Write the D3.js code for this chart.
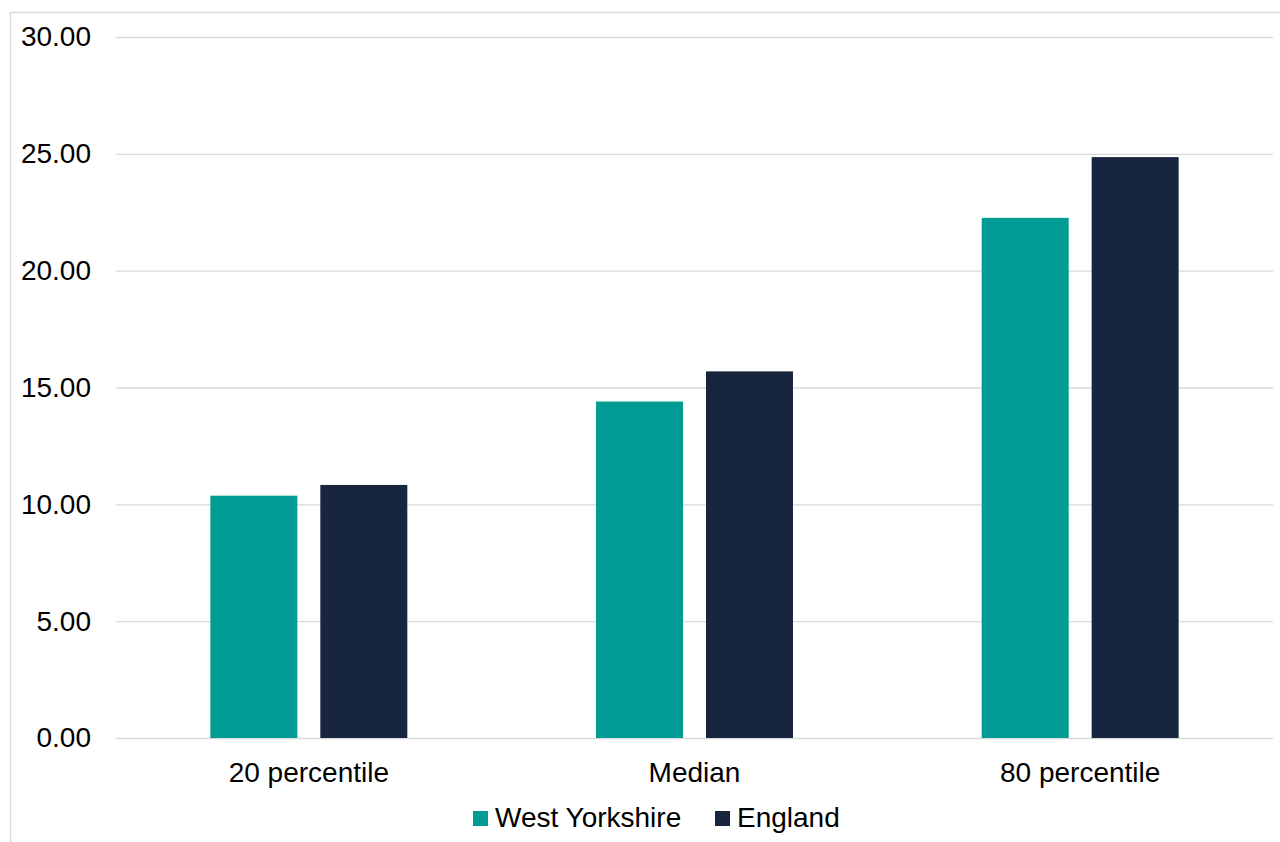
<!DOCTYPE html>
<html>
<head>
<meta charset="utf-8">
<script src="https://cdn.jsdelivr.net/npm/d3@7"></script>
<style>
html,body{margin:0;padding:0;background:#fff;}
svg{display:block;}
text{font-family:"Liberation Sans",Arial,sans-serif;fill:#000;}
</style>
</head>
<body>
<svg id="chart" width="1280" height="842"></svg>
<script>
const categories = ["20 percentile", "Median", "80 percentile"];
const seriesNames = ["West Yorkshire", "England"];
const westYorkshire = [10.37, 14.40, 22.26];
const england = [10.83, 15.69, 24.86];
const yTicks = [0, 5, 10, 15, 20, 25, 30];
const colors = ["#009b93", "#18253e"];

const svg = d3.select("#chart");
const W = 1280, H = 842;
const plot = {left: 116, right: 1273, top: 37, bottom: 738};
const FS = "28px";

// outer frame
svg.append("rect").attr("x", 10.5).attr("y", 12.5).attr("width", W).attr("height", H)
  .attr("fill", "none").attr("stroke", "#d9d9d9").attr("stroke-width", 1.5);

const y = d3.scaleLinear().domain([0, 30]).range([plot.bottom, plot.top]);
const x0 = d3.scaleBand().domain(categories).range([plot.left, plot.right]).padding(0);
const x1 = d3.scaleBand().domain(seriesNames).range([0, x0.bandwidth()])
  .paddingInner(0.209).paddingOuter(0.858);

// gridlines
const yAxis = d3.axisLeft(y).tickValues(yTicks).tickFormat(d3.format(".2f"))
  .tickSize(-(plot.right - plot.left)).tickPadding(25);
const gy = svg.append("g").attr("transform", `translate(${plot.left},0)`).call(yAxis);
gy.select(".domain").remove();
gy.selectAll(".tick line").attr("stroke", "#d9d9d9").attr("stroke-width", 1.3);
gy.selectAll(".tick text").attr("font-size", FS).attr("fill", "#000")
  .attr("font-family", "Liberation Sans, Arial, sans-serif");

const data = categories.map((c, i) => ({cat: c, vals: [westYorkshire[i], england[i]]}));

const groups = svg.append("g").selectAll("g").data(data).join("g")
  .attr("transform", d => `translate(${x0(d.cat)},0)`);
groups.selectAll("rect").data(d => d.vals.map((v, j) => ({name: seriesNames[j], v, j})))
  .join("rect")
  .attr("x", d => x1(d.name))
  .attr("width", x1.bandwidth())
  .attr("y", d => y(d.v))
  .attr("height", d => y(0) - y(d.v))
  .attr("fill", d => colors[d.j]);

// x axis labels
const xAxis = d3.axisBottom(x0).tickSize(0).tickPadding(24);
const gx = svg.append("g").attr("transform", `translate(0,${plot.bottom})`).call(xAxis);
gx.select(".domain").remove();
gx.selectAll(".tick text").attr("font-size", FS).attr("fill", "#000")
  .attr("font-family", "Liberation Sans, Arial, sans-serif");

// legend
const legendItems = [{name: seriesNames[0], x: 473}, {name: seriesNames[1], x: 715}];
const lg = svg.append("g");
legendItems.forEach((it, i) => {
  lg.append("rect").attr("x", it.x).attr("y", 811).attr("width", 15).attr("height", 15).attr("fill", colors[i]);
  lg.append("text").attr("x", it.x + 22).attr("y", 827).attr("font-size", FS).text(it.name);
});
</script>
</body>
</html>
